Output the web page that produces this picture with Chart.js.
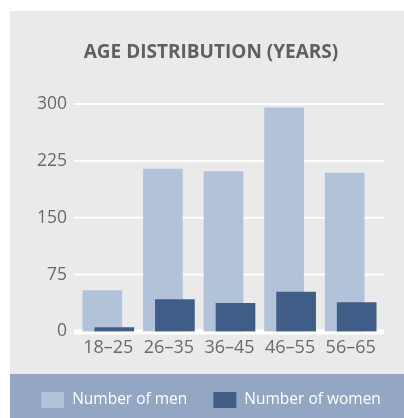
<!DOCTYPE html>
<html>
<head>
<meta charset="utf-8">
<script src="https://cdn.jsdelivr.net/npm/chart.js@4"></script>
<style>
  html, body { margin: 0; padding: 0; background: #ffffff; }
  #wrap { width: 404px; height: 418px; }
</style>
</head>
<body>
<div id="wrap"><canvas id="myChart" width="404" height="418"></canvas></div>
<script>
    // data
    const categories = ['18–25', '26–35', '36–45', '46–55', '56–65'];
    const menValues = [54, 214, 211, 295, 209];
    const womenValues = [5, 42, 37, 52, 38];
    const yTicks = [0, 75, 150, 225, 300];

    const titleText = 'AGE DISTRIBUTION (YEARS)';
    const menColor = '#b1c2d9';
    const womenColor = '#405d88';

    // background panel, legend band, white grid lines, title + legend
    const panel = {
      id: 'panel',
      beforeDraw(chart) {
        const { ctx, width, height } = chart;
        ctx.save();
        ctx.fillStyle = '#ffffff';
        ctx.fillRect(0, 0, width, height);
        ctx.fillStyle = '#eaeaea';
        ctx.fillRect(10, 11, width - 10, height - 11);
        ctx.fillStyle = '#93a6c4';
        ctx.fillRect(10, 374, width - 10, height - 374);
        ctx.restore();
      },
      beforeDatasetsDraw(chart) {
        const { ctx, scales: { y } } = chart;
        ctx.save();
        ctx.fillStyle = '#ffffff';
        yTicks.forEach(v => {
          const py = y.getPixelForValue(v);
          if (v === 0) {
            ctx.fillRect(74, py - 2, 310, 5);
          } else {
            ctx.fillRect(74, py - 1, 310, 2);
          }
        });
        ctx.restore();
      },
      // overlap the two series: men shifted left, women right
      beforeDatasetDraw(chart, args) {
        chart.ctx.save();
        chart.ctx.translate(args.index === 0 ? -6 : 6, 0);
      },
      afterDatasetDraw(chart) {
        chart.ctx.restore();
      },
      afterDraw(chart) {
        const { ctx } = chart;
        ctx.save();
        // title
        ctx.font = 'bold 19px "Open Sans"';
        ctx.fillStyle = '#606060';
        ctx.textAlign = 'center';
        ctx.textBaseline = 'middle';
        ctx.fillText(titleText, 211, 53);
        // legend
        ctx.font = '15.5px "Open Sans"';
        ctx.textAlign = 'left';
        const items = chart.data.datasets.map(ds => ({
          text: ds.label, color: ds.backgroundColor,
          w: ctx.measureText(ds.label).width
        }));
        const total = items.reduce((s, it) => s + 23 + 8 + it.w, 0) + 26 * (items.length - 1);
        let x = 211 - total / 2;
        items.forEach(it => {
          ctx.fillStyle = it.color;
          ctx.fillRect(x, 392, 23, 16);
          ctx.fillStyle = '#ffffff';
          ctx.fillText(it.text, x + 31, 400);
          x += 31 + it.w + 26;
        });
        ctx.restore();
      }
    };

    const config = {
      type: 'bar',
      data: {
        labels: categories,
        datasets: [{
          label: 'Number of men',
          data: menValues,
          backgroundColor: menColor,
          barThickness: 39,
          grouped: false,
          order: 2
        }, {
          label: 'Number of women',
          data: womenValues,
          backgroundColor: womenColor,
          barThickness: 39,
          grouped: false,
          order: 1
        }]
      },
      options: {
        responsive: false,
        animation: false,
        layout: {
          padding: { left: 10, right: 23, top: 104, bottom: 53 }
        },
        plugins: {
          legend: { display: false },
          tooltip: { enabled: false }
        },
        scales: {
          x: {
            grid: { display: false, drawTicks: false },
            border: { display: false },
            ticks: {
              color: '#6a6a6a',
              font: { family: 'Open Sans', size: 18 },
              padding: 6
            }
          },
          y: {
            min: 0,
            max: 300,
            afterFit(scale) { scale.width = 68; },
            afterBuildTicks(scale) { scale.ticks = yTicks.map(v => ({ value: v })); },
            grid: { display: false, drawTicks: false },
            border: { display: false },
            ticks: {
              color: '#6a6a6a',
              font: { family: 'Open Sans', size: 17.5 },
              padding: 11
            }
          }
        }
      },
      plugins: [panel]
    };

    const myChart = new Chart(document.getElementById('myChart'), config);
</script>
</body>
</html>
